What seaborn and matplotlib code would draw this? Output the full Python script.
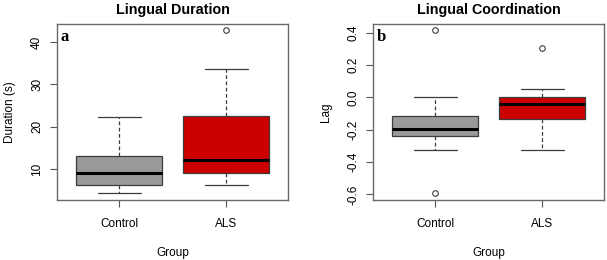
import numpy as np
import pandas as pd
import seaborn as sns
import matplotlib.pyplot as plt
from matplotlib.ticker import FormatStrFormatter

# values (quartiles / whiskers / outliers reproduced)
groups = ['Control', 'ALS']
duration_control = [4.2, 5.5, 6.3, 7.8, 9.1, 11.0, 13.0, 16.0, 22.3]
duration_als = [6.1, 7.5, 9.1, 10.5, 12.0, 15.0, 22.5, 33.6, 42.8]
lag_control = [-0.594, -0.327, -0.24, -0.21, -0.195, -0.15, -0.118, 0.0, 0.414]
lag_als = [-0.327, -0.2, -0.135, -0.08, -0.041, -0.02, 0.0, 0.052, 0.304]
duration_ticks = [10, 20, 30, 40]
lag_ticks = [-0.6, -0.4, -0.2, 0.0, 0.2, 0.4]

sns.set_style('ticks')
plt.rcParams['font.family'] = ['Liberation Sans', 'DejaVu Sans']
plt.rcParams['axes.unicode_minus'] = False
plt.rcParams['text.color'] = 'black'
plt.rcParams['axes.labelcolor'] = 'black'
plt.rcParams['xtick.labelcolor'] = 'black'
plt.rcParams['ytick.labelcolor'] = 'black'

palette = {'Control': '#9a9a9a', 'ALS': '#cc0000'}
edge = '#3c3c3c'


def make_df(ctrl, als, col):
    return pd.DataFrame({
        'Group': ['Control'] * len(ctrl) + ['ALS'] * len(als),
        col: ctrl + als,
    })


def draw(ax, df, col, ylabel, title, letter, ticks, fmt=None):
    sns.boxplot(data=df, x='Group', y=col, hue='Group', order=groups,
                palette=palette, saturation=1, legend=False, width=0.8,
                whis=1.5, ax=ax, linecolor=edge, linewidth=0.9,
                whiskerprops=dict(linestyle=(0, (3, 2)), color=edge),
                capprops=dict(color=edge),
                medianprops=dict(color='black', linewidth=2.2),
                flierprops=dict(marker='o', markerfacecolor='none',
                                markeredgecolor=edge, markersize=4,
                                markeredgewidth=0.8))
    vals = df[col]
    pad = (vals.max() - vals.min()) * 0.04
    ax.set_ylim(vals.min() - pad, vals.max() + pad)
    ax.set_xlim(-0.58, 1.58)
    ax.set_yticks(ticks)
    if fmt:
        ax.yaxis.set_major_formatter(FormatStrFormatter(fmt))
    ax.tick_params(axis='y', labelrotation=90, labelsize=8.5, length=5,
                   color='#555555', pad=5)
    for lab in ax.get_yticklabels():
        lab.set_va('center')
    ax.tick_params(axis='x', labelsize=8.5, length=5, color='#555555', pad=8)
    ax.set_xlabel('Group', fontsize=8.5, labelpad=12)
    ax.set_ylabel(ylabel, fontsize=8.5, labelpad=11)
    ax.set_title(title, fontsize=10.3, fontweight='bold', pad=7)
    for s in ax.spines.values():
        s.set_visible(True)
        s.set_color('#6a6a6a')
        s.set_linewidth(1.0)
    ax.text(0.015, 0.97, letter, transform=ax.transAxes, ha='left', va='top',
            fontsize=12, fontweight='bold', family='Liberation Serif')


fig = plt.figure(figsize=(6.07, 2.6), dpi=100)
ax1 = fig.add_axes([0.094, 0.231, 0.381, 0.677])
ax2 = fig.add_axes([0.6145, 0.231, 0.381, 0.677])

draw(ax1, make_df(duration_control, duration_als, 'Duration'),
     'Duration', 'Duration (s)', 'Lingual Duration', 'a', duration_ticks)
draw(ax2, make_df(lag_control, lag_als, 'Lag'),
     'Lag', 'Lag', 'Lingual Coordination', 'b', lag_ticks, fmt='%.1f')

fig.savefig('out.png', dpi=100)
